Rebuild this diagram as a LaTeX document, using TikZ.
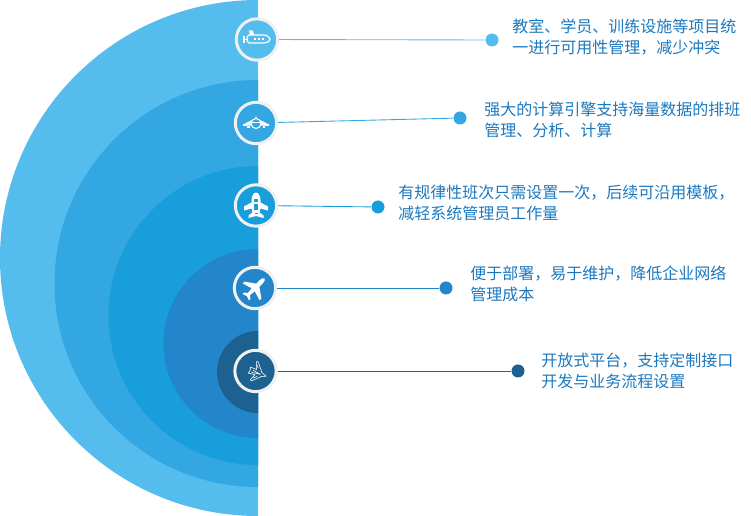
\documentclass[tikz,border=0pt]{standalone}
\usepackage{fontspec}
\setmainfont{Noto Sans CJK SC}
\definecolor{cA}{HTML}{55BCEE}
\definecolor{cB}{HTML}{33A7E1}
\definecolor{cC}{HTML}{189EDA}
\definecolor{cD}{HTML}{2386CB}
\definecolor{cE}{HTML}{1D6190}
\definecolor{ringc}{HTML}{EEF0F2}
\definecolor{txtc}{HTML}{1B78BE}
\tikzset{
  halfdisk/.style={fill=#1,draw=none},
  iconbase/.style={circle,draw=ringc,line width=2.25pt,minimum size=31pt,inner sep=0pt,fill=#1},
  enddot/.style={circle,fill=#1,draw=none,minimum size=9.75pt,inner sep=0pt},
  link/.style={draw=#1,line width=0.65pt},
  label/.style={anchor=west,text=txtc,font=\fontsize{12}{15}\selectfont,inner sep=0pt,align=left},
  iconline/.style={draw=white,line width=0.9pt,line join=round,fill=none},
  iconthin/.style={draw=white,line width=0.45pt,line join=round,fill=none},
  iconfill/.style={fill=white,draw=none},
}
\newcommand{\halfdisk}[3]{\path[halfdisk=#3] (258,#1-#2) arc[start angle=270,end angle=90,radius=#2] -- cycle;}
\begin{document}
\begin{tikzpicture}[x=0.75pt,y=-0.75pt]
\useasboundingbox (0,0) rectangle (751,516);
\halfdisk{258}{258}{cA}
\halfdisk{283.5}{203.5}{cB}
\halfdisk{315.5}{149.5}{cC}
\halfdisk{343.5}{94.5}{cD}
\halfdisk{372}{41}{cE}

\node[iconbase=cA] (i1) at (257,39.5) {};
\node[iconbase=cB] (i2) at (256,123) {};
\node[iconbase=cC] (i3) at (256,205.5) {};
\node[iconbase=cD] (i4) at (255,288) {};
\node[iconbase=cE] (i5) at (255.5,371) {};

\node[enddot=cA] (d1) at (492,40) {};
\node[enddot=cB] (d2) at (460,118) {};
\node[enddot=cC] (d3) at (378,207) {};
\node[enddot=cD] (d4) at (446,288) {};
\node[enddot=cE] (d5) at (518,371) {};

\draw[link=cA] (i1) -- (d1);
\draw[link=cB] (i2) -- (d2);
\draw[link=cC] (i3) -- (d3);
\draw[link=cD] (i4) -- (d4);
\draw[link=cE] (i5) -- (d5);

\node[label] (t1) at (512,37) {教室、学员、训练设施等项目统\\[0.5pt]一进行可用性管理，减少冲突};
\node[label] (t2) at (484,120) {强大的计算引擎支持海量数据的排班\\[0.5pt]管理、分析、计算};
\node[label] (t3) at (398,203) {有规律性班次只需设置一次，后续可沿用模板，\\[0.5pt]减轻系统管理员工作量};
\node[label] (t4) at (470,284) {便于部署，易于维护，降低企业网络\\[0.5pt]管理成本};
\node[label] (t5) at (541,371) {开放式平台，支持定制接口\\[0.5pt]开发与业务流程设置};

% submarine
\begin{scope}[shift={(i1.center)}]
\draw[iconline] (-8,-4.5) -- (7,-4.5) .. controls (11,-4.5) and (13,-1) .. (13,0) .. controls (13,2) and (10,3.5) .. (7,3.5) -- (-8,3.5) .. controls (-10.5,3.5) and (-10.5,-4.5) .. (-8,-4.5) -- cycle;
\path[iconfill] (-14,-3.5) rectangle (-12,3.5);
\draw[iconline] (-13,0) -- (-9,0);
\path[iconfill] (-8,-9) -- (-4.5,-9) -- (-2.5,-4.5) -- (-7,-4.5) -- cycle;
\foreach \k in {-2,2,6} \path[iconfill] (\k-1.3,-1.7) rectangle (\k+1.3,0.8);
\end{scope}

% plane, front view
\begin{scope}[shift={(i2.center)}]
\path[iconfill] (-13,1.5) -- (-5,-2.5) -- (5,-2.5) -- (13,1.5) -- (13,3) -- (5,2.5) -- (-5,2.5) -- (-13,3) -- cycle;
\path[iconfill] (0,-7.5) -- (1,-4) -- (-1,-4) -- cycle;
\draw[draw=white,line width=0.8pt,fill=cB] (0,0.5) circle[radius=5];
\draw[iconthin] (-4.5,-0.5) -- (4.5,-0.5);
\path[iconfill] (-9,3) rectangle (-6.5,5);
\path[iconfill] (6.5,3) rectangle (9,5);
\end{scope}

% plane, top view
\begin{scope}[shift={(i3.center)}]
\path[iconfill] (0,-13) .. controls (3,-13) and (4.5,-8) .. (4.5,-5) -- (4.5,-3) -- (12,1) -- (12,5) -- (4.5,3) -- (3.5,7) -- (7.5,10) -- (7.5,12.5) -- (0,10.5) -- (-7.5,12.5) -- (-7.5,10) -- (-3.5,7) -- (-4.5,3) -- (-12,5) -- (-12,1) -- (-4.5,-3) -- (-4.5,-5) .. controls (-4.5,-8) and (-3,-13) .. (0,-13) -- cycle;
\path[fill=cC] (-2.2,-6) rectangle (2.2,-3.5);
\path[fill=cC] (-2.2,-1.5) rectangle (2.2,5);
\path[fill=cC] (-1.5,7.5) rectangle (1.5,9);
\end{scope}

% plane, diagonal
\begin{scope}[shift={(i4.center)},rotate=-45]
\path[iconfill] (0,-13.5) .. controls (1.5,-13.5) and (2.2,-11) .. (2.2,-9) -- (2.2,-4) -- (12,3) -- (12,5.5) -- (2.2,2.5) -- (1.5,8.5) -- (4.5,11) -- (4.5,13) -- (0,11.5) -- (-4.5,13) -- (-4.5,11) -- (-1.5,8.5) -- (-2.2,2.5) -- (-12,5.5) -- (-12,3) -- (-2.2,-4) -- (-2.2,-9) .. controls (-2.2,-11) and (-1.5,-13.5) .. (0,-13.5) -- cycle;
\end{scope}

% jet
\begin{scope}[shift={(i5.center)},shift={(2,1.5)},rotate=-18,scale=0.85]
\draw[iconthin] (11,1) -- (5,-1.5) -- (-3,-12) -- (-5,-12) -- (-2,-3) -- (-10,-3.5) -- (-9,0) -- (-10,4) -- (-2,3.5) -- (-5.5,11) -- (-3,11) -- (6,3) -- cycle;
\draw[iconthin] (-6,-1) -- (4,1) -- (-7,2);
\draw[iconthin] (-4,-9) -- (-1,-5);
\draw[iconthin] (-3,8) -- (1,4.5);
\end{scope}
\end{tikzpicture}
\end{document}
